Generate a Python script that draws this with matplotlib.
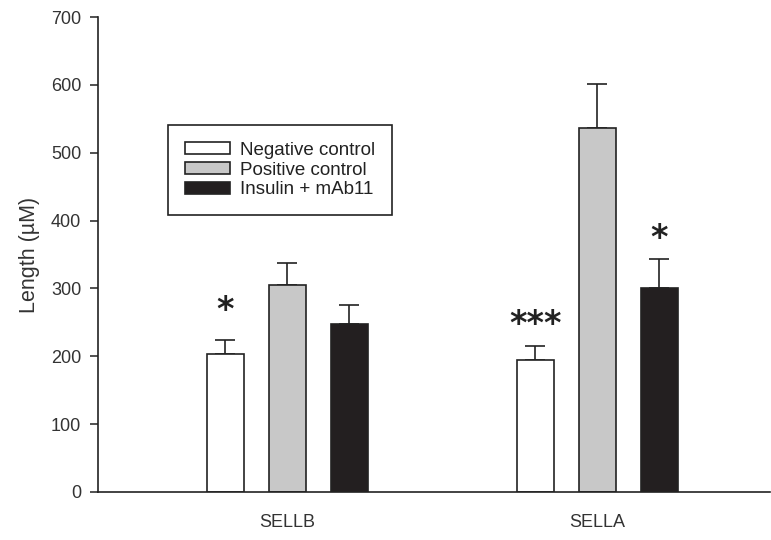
import numpy as np
import matplotlib.pyplot as plt

plt.rcParams['font.family'] = ['Liberation Sans', 'DejaVu Sans']

groups = ['SELLB', 'SELLA']
series = ['Negative control', 'Positive control', 'Insulin + mAb11']
colors = ['white', '#c8c8c8', '#231f20']

means = {
    'Negative control': [204, 194],
    'Positive control': [305, 537],
    'Insulin + mAb11': [247, 300],
}
errors = {
    'Negative control': [20, 21],
    'Positive control': [33, 64],
    'Insulin + mAb11': [28, 43],
}
# significance marks: (group, series, text, y)
stars = [(0, 0, '*', 268), (1, 0, '***', 247), (1, 2, '*', 374)]

fig = plt.figure(figsize=(7.71, 5.4), dpi=100)
ax = fig.add_axes([0.1271, 0.0889, 0.872, 0.8796])

x = np.arange(len(groups))
offsets = [-0.2, 0.0, 0.2]
width = 0.12

for i, name in enumerate(series):
    ax.bar(x + offsets[i], means[name], width, color=colors[i],
           edgecolor='#222222', linewidth=1.2, label=name, zorder=2)
    ax.errorbar(x + offsets[i], means[name],
                yerr=[np.zeros(len(groups)), errors[name]],
                fmt='none', ecolor='#222222', elinewidth=1.2,
                capsize=7, capthick=1.2, zorder=1)

for g, s, txt, yv in stars:
    ax.text(x[g] + offsets[s], yv, txt, ha='center', va='center',
            fontsize=24, fontweight='bold', family='DejaVu Sans',
            color='#222222')

ax.set_xlim(-0.61, 1.558)
ax.set_ylim(0, 700)
ax.set_yticks(range(0, 701, 100))
ax.set_xticks(x)
ax.set_xticklabels(groups, fontsize=13, color='#333333')
ax.tick_params(axis='x', length=0, pad=16)
ax.tick_params(axis='y', direction='out', length=6, width=1.2,
               labelsize=13, colors='#333333', pad=6)
ax.set_ylabel('Length (µM)', fontsize=15.5, color='#333333', labelpad=8)

for sp in ['top', 'right']:
    ax.spines[sp].set_visible(False)
for sp in ['left', 'bottom']:
    ax.spines[sp].set_linewidth(1.2)
    ax.spines[sp].set_color('#222222')

leg = ax.legend(loc='upper left', bbox_to_anchor=(0.104, 0.773),
                borderaxespad=0, fancybox=False, edgecolor='#222222',
                framealpha=1, fontsize=13.5, handlelength=2.4,
                handleheight=0.6, handletextpad=0.55, labelspacing=0.15,
                borderpad=0.9)
leg.get_frame().set_linewidth(1.2)
for t in leg.get_texts():
    t.set_color('#222222')

fig.savefig('out.png', dpi=100)
